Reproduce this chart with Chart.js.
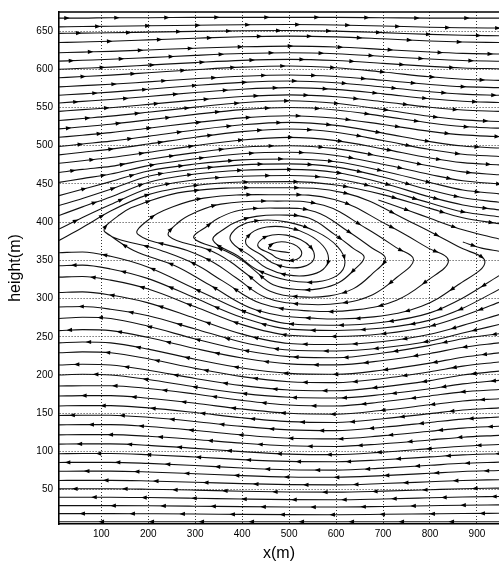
<!DOCTYPE html>
<html>
<head>
<meta charset="utf-8">
<script src="https://cdn.jsdelivr.net/npm/chart.js@4.4.1/dist/chart.umd.min.js"></script>
<style>
  html, body { margin: 0; padding: 0; background: #fff; }
  #wrap { width: 499px; height: 562px; }
</style>
</head>
<body>
<div id="wrap"><canvas id="flow" width="499" height="562"></canvas></div>
<script>
// x positions (m) where the open streamlines are sampled
const stationX = [10, 60, 120, 200, 300, 400, 500, 600, 700, 800, 870, 947];
const xTicks = [100, 200, 300, 400, 500, 600, 700, 800, 900];
const yTicks = [50, 100, 150, 200, 250, 300, 350, 400, 450, 500, 550, 600, 650];

// streamlines above the eddy (flow to the right), height (m) at each station
const upperFlowY = [
  [667, 667, 667.5, 667.5, 668, 668, 668, 668, 667.5, 667, 667, 667],
  [655.6, 656, 656.3, 657, 657.6, 658.3, 658.6, 658, 656.7, 655, 654.4, 654],
  [647, 647.4, 647.8, 648.6, 649.6, 650.4, 650.8, 650, 648, 645.7, 644.5, 644],
  [635, 635.8, 636.8, 638.5, 640.7, 642.6, 643.4, 642.4, 639.9, 637.1, 635.7, 635],
  [621.6, 622.5, 623.5, 625.3, 627.6, 629.5, 630.4, 629.2, 626, 622.6, 620.8, 620],
  [610.7, 611.8, 613.1, 615.3, 618.2, 620.6, 621.7, 620.4, 617, 613.4, 611.5, 610.6],
  [600, 601.3, 602.9, 605.5, 608.8, 611.7, 613, 611.5, 607.8, 603.8, 601.7, 600.7],
  [589, 590.5, 592.4, 595.5, 599.5, 602.9, 604.4, 602.1, 596.5, 590.2, 587, 585.5],
  [577, 578.6, 580.4, 583.6, 587.6, 591, 592.6, 590.6, 585.6, 580.2, 577.3, 576],
  [566, 567.9, 570.1, 573.9, 578.8, 582.9, 584.8, 582.5, 576.9, 570.7, 567.5, 566],
  [556, 558, 560.4, 564.4, 569.6, 574, 576, 573.7, 567.9, 561.5, 558.2, 556.6],
  [545, 547.2, 549.8, 554.1, 559.7, 564.4, 566.6, 564, 557.5, 550.4, 546.7, 545],
  [533, 535.6, 538.7, 543.8, 550.5, 556.2, 558.8, 555.5, 547.4, 538.5, 533.8, 531.7],
  [522, 524.8, 528.2, 533.8, 541, 547.2, 550, 546.8, 538.7, 529.8, 525.2, 523],
  [511, 513.8, 517.2, 522.9, 530.2, 536.5, 539.3, 536, 527.8, 518.8, 514.2, 512],
  [499, 502.2, 506, 512.3, 520.5, 527.4, 530.6, 526.6, 516.5, 505.4, 499.7, 497],
  [488, 491.4, 495.5, 502.2, 511.1, 518.5, 521.9, 517.6, 506.8, 495, 488.9, 486],
  [477, 480.4, 484.5, 491.3, 500.1, 507.6, 511, 506.7, 495.9, 484, 477.9, 475],
  [465, 469, 473, 482, 491, 498, 500, 496.2, 485.6, 473.4, 465.8, 462],
  [452, 457, 463, 474, 483, 489.5, 491.4, 487.3, 475.7, 462.4, 454.1, 450],
  [434.7, 443, 453, 467, 476, 481.5, 482.7, 479, 467, 452, 442, 437],
  [421.7, 431, 443, 460, 469.5, 475, 476.2, 472, 459, 442, 432, 426],
  [408.7, 420, 433, 452, 463, 468, 469, 465, 451, 433, 422.5, 416],
  [391, 406, 423, 444, 455.5, 460, 461, 456.7, 443, 425, 413.5, 407],
  [376, 393, 414.5, 436, 448, 452.5, 453, 448.6, 436, 418, 405.7, 398]
];

// short rightward streamlines squeezed between the eddy and the flow near the right saddle
const upperExtraPaths = [
  [[690, 429], [760, 414], [800, 405], [870, 390], [947, 378]],
  [[870, 374], [910, 366], [947, 362]]
];

// streamlines below the eddy (flow to the left), height (m) at each station
const lowerFlowY = [
  [8, 8, 8, 8, 8, 8, 8, 8, 8, 8, 8, 8],
  [18.6, 18.6, 18.6, 18.4, 18.1, 17.6, 17.3, 17.2, 17.7, 18.3, 18.7, 19],
  [29, 29, 29, 28.8, 28.3, 27.7, 27.3, 27.2, 27.9, 28.9, 29.6, 30],
  [40, 40.1, 40.1, 39.6, 38.7, 37.7, 36.9, 36.7, 37.8, 39.3, 40.4, 41],
  [51, 51.1, 51.1, 50.5, 49.3, 47.9, 46.9, 46.7, 48, 49.9, 51.2, 52],
  [62, 62.1, 62.1, 61.3, 59.7, 57.8, 56.5, 56.2, 57.9, 60.3, 62, 63],
  [74, 74.2, 74.2, 73.1, 70.8, 68.3, 66.5, 66.1, 68.3, 71.4, 73.7, 75],
  [85.5, 85.7, 85.7, 84.3, 81.5, 78.3, 76, 75.5, 78.1, 81.8, 84.4, 86],
  [97, 97.2, 97.2, 95.7, 92.7, 89.3, 86.9, 86.4, 89.1, 92.8, 95.4, 97],
  [109.5, 109.8, 109.8, 107.9, 104, 99.7, 96.5, 95.8, 99.1, 103.6, 106.8, 109],
  [121.6, 121.9, 121.9, 119.8, 115.6, 110.8, 107.3, 106.5, 110.1, 115, 118.6, 121],
  [134.7, 135.1, 135.1, 132.5, 127.4, 121.5, 117.3, 116.4, 120.6, 126.4, 130.5, 133],
  [147, 147.4, 147.4, 144.6, 139.1, 132.7, 128.2, 127.2, 131.6, 137.9, 142.3, 145],
  [159.5, 159.9, 159.9, 156.9, 150.9, 144, 139, 137.9, 142.7, 149.4, 154.1, 157],
  [172.5, 173, 173, 169.6, 163, 155.4, 149.9, 148.7, 153.8, 161, 166, 169],
  [185.5, 186, 186, 182.4, 175.1, 166.8, 160.8, 159.5, 164.9, 172.6, 177.9, 181],
  [200, 200.9, 200, 194, 184.3, 175.9, 170.8, 169.9, 174.5, 181.9, 188.4, 193],
  [213, 214, 213, 206.3, 195.5, 186.1, 180.4, 179.4, 184.5, 192.6, 199.9, 205],
  [229, 230.2, 229, 221.2, 208.7, 197.8, 191.2, 190, 195.4, 204.2, 211.6, 217],
  [242, 243.2, 242, 233.8, 220.6, 209.1, 202.1, 200.9, 206.5, 215.5, 223.3, 229],
  [258, 259.3, 258, 249, 234.7, 222.2, 214.5, 213.2, 219, 228.2, 236.2, 242],
  [274, 275.5, 274, 263.7, 247.2, 232.8, 224, 222.5, 228.8, 238.8, 247.5, 254],
  [289, 289.6, 286.1, 277.5, 260.2, 242.9, 232.6, 231.4, 235.6, 244.5, 254.9, 266],
  [308, 308.7, 304.6, 294.4, 274, 253.5, 241.3, 239.9, 243.8, 253.2, 264.9, 279],
  [328, 328.8, 324.1, 312.5, 289.2, 265.9, 252, 250.4, 254, 263.8, 277.2, 295],
  [343, 343.8, 338.8, 326.1, 300.7, 275.2, 260, 258.3, 261.5, 271.8, 287.4, 312],
  [360, 361, 355.3, 341, 312.6, 284.1, 267, 265.1, 269, 281.3, 300.8, 330]
];

// the eddy: one spiral, turn by turn, clockwise from each left tip
const eddyStart = [500, 360];
const eddyLoops = [
  [[457, 364.8], [461.7, 370.4], [474.5, 373.8], [492, 374], [509.5, 371], [522.3, 365.6],
   [527, 359.2], [522.3, 353.6], [509.5, 350.2], [492, 350], [474.5, 353], [461.7, 358.4]],
  [[434, 368], [442, 377.7], [464, 383.2], [494, 383], [524, 377.2], [546, 367.3],
   [554, 356], [546, 346.3], [524, 340.8], [494, 341], [464, 346.8], [442, 356.7]],
  [[408, 371.7], [419.8, 385.9], [452, 393.6], [496, 393], [540, 384], [572.2, 369.1],
   [584, 352.3], [572.2, 338.1], [540, 330.4], [496, 331], [452, 340], [419.8, 354.9]],
  [[375, 376.6], [391.3, 393.6], [436, 402.2], [497, 400], [558, 387.6], [602.7, 368.4],
   [619, 347.4], [602.7, 330.4], [558, 321.8], [497, 324], [436, 336.4], [391.3, 355.6]],
  [[338, 376.3], [364, 392], [392, 401.5], [430, 407.5], [480, 409.3], [541.7, 405.3], [597.5, 383.7], [637.3, 365.4], [659.9, 354],
   [637.3, 336.9], [606.2, 321], [565.6, 313], [517.9, 311.8], [466.1, 318.1], [426.3, 336.9], [400, 350], [366, 362]],
  [[297.5, 379], [326, 395], [352, 406], [395, 415.5], [469.8, 418.4], [555.5, 413.7], [626.1, 387.8], [676.5, 366.1], [705.2, 352.5],
   [676.5, 332.1], [637.2, 313], [585.8, 303.5], [525.3, 302.2], [459.8, 309.6], [409.4, 332.1], [372.6, 349.1], [330, 363.5]],
  [[244, 381.8], [264.6, 399.9], [296.8, 411.8], [354.8, 423.6], [464.2, 427.6], [573.7, 422], [663.9, 392], [728.3, 366.7], [765, 350.9],
   [728.3, 327.2], [678, 305.1], [612.4, 294.1], [535.1, 292.5], [451.4, 301.2], [387, 327.2], [340, 347], [283.3, 362.8]],
  [[177.5, 384.3], [203.7, 404.7], [244.6, 418.1], [318.2, 431.4], [457.3, 435.9], [596.3, 429.6], [710.9, 395.8], [792.7, 367.3], [839.3, 349.5],
   [792.7, 322.8], [728.9, 297.9], [645.4, 285.5], [547.3, 283.7], [440.9, 293.5], [359.1, 322.8], [299.4, 345.1], [227.4, 362.9]],
  [[108, 387], [140, 410], [190, 425], [280, 440], [450, 445], [620, 438], [760, 400], [860, 368], [917, 348],
   [860, 318], [782, 290], [680, 276], [560, 274], [430, 285], [330, 318], [257, 343], [169, 363]]
];

const lineStyle = {
  showLine: true,
  pointRadius: 0,
  pointHoverRadius: 0,
  borderColor: '#111',
  borderWidth: 1.1,
  fill: false
};

const toPoints = (pairs) => pairs.map(([x, y]) => ({ x, y }));
const onStations = (ys) => ys.map((y, i) => ({ x: stationX[i], y }));

const datasets = [];
upperFlowY.forEach((ys) => datasets.push({ ...lineStyle, data: onStations(ys), cubicInterpolationMode: 'monotone', flow: 1 }));
upperExtraPaths.forEach((path) => datasets.push({ ...lineStyle, data: toPoints(path), cubicInterpolationMode: 'monotone', flow: 1 }));
lowerFlowY.forEach((ys) => datasets.push({ ...lineStyle, data: onStations(ys), cubicInterpolationMode: 'monotone', flow: -1 }));

const spiralPairs = [eddyStart, ...eddyLoops.flat(), eddyLoops[eddyLoops.length - 1][0]];
datasets.push({ ...lineStyle, data: toPoints(spiralPairs), tension: 0.4, flow: 1 });

// Sample the drawn bezier segments of a dataset so arrows sit on the curve.
const tracePath = (points) => {
  const path = [];
  for (let i = 0; i < points.length - 1; i++) {
    const a = points[i];
    const b = points[i + 1];
    const c1x = a.cp2x ?? a.x, c1y = a.cp2y ?? a.y;
    const c2x = b.cp1x ?? b.x, c2y = b.cp1y ?? b.y;
    for (let s = 0; s < 14; s++) {
      const t = s / 14, u = 1 - t;
      path.push([
        u * u * u * a.x + 3 * u * u * t * c1x + 3 * u * t * t * c2x + t * t * t * b.x,
        u * u * u * a.y + 3 * u * u * t * c1y + 3 * u * t * t * c2y + t * t * t * b.y
      ]);
    }
  }
  const last = points[points.length - 1];
  if (last) path.push([last.x, last.y]);
  return path;
};

const drawArrow = (ctx, x, y, dx, dy) => {
  const len = 5.5, half = 2.1;
  ctx.beginPath();
  ctx.moveTo(x + dx * len / 2, y + dy * len / 2);
  ctx.lineTo(x - dx * len / 2 - dy * half, y - dy * len / 2 + dx * half);
  ctx.lineTo(x - dx * len / 2 + dy * half, y - dy * len / 2 - dx * half);
  ctx.closePath();
  ctx.fill();
};

// Direction arrowheads spaced along every streamline.
const arrowPlugin = {
  id: 'flowArrows',
  afterDatasetsDraw(chart) {
    const { ctx, chartArea } = chart;
    ctx.save();
    ctx.beginPath();
    ctx.rect(chartArea.left, chartArea.top, chartArea.right - chartArea.left, chartArea.bottom - chartArea.top);
    ctx.clip();
    ctx.fillStyle = '#000';
    chart.data.datasets.forEach((dataset, index) => {
      const path = tracePath(chart.getDatasetMeta(index).data);
      const spacing = 50;
      let next = 8 + ((index * 0.618) % 1) * spacing;
      let run = 0;
      for (let i = 1; i < path.length; i++) {
        const [x0, y0] = path[i - 1];
        const [x1, y1] = path[i];
        const seg = Math.hypot(x1 - x0, y1 - y0);
        while (seg > 0 && run + seg >= next) {
          const t = (next - run) / seg;
          drawArrow(ctx, x0 + (x1 - x0) * t, y0 + (y1 - y0) * t,
            (x1 - x0) / seg * dataset.flow, (y1 - y0) / seg * dataset.flow);
          next += spacing;
        }
        run += seg;
      }
    });
    ctx.restore();
  }
};

const frameTopPlugin = {
  id: 'frameTop',
  afterDraw(chart) {
    const { ctx, chartArea } = chart;
    ctx.save();
    ctx.strokeStyle = '#000';
    ctx.lineWidth = 1.6;
    ctx.beginPath();
    ctx.moveTo(chartArea.left, chartArea.top);
    ctx.lineTo(chartArea.right, chartArea.top);
    ctx.stroke();
    ctx.restore();
  }
};

Chart.defaults.font.family = '"Liberation Sans", Arial, Helvetica, sans-serif';
Chart.defaults.color = '#000';

const dottedGrid = { color: '#333', lineWidth: 1, drawTicks: false };
const axisBorder = { display: true, color: '#000', width: 1.6, dash: [1, 2] };

new Chart(document.getElementById('flow'), {
  type: 'scatter',
  data: { datasets },
  options: {
    responsive: false,
    maintainAspectRatio: false,
    animation: false,
    events: [],
    layout: { padding: { top: 11, right: 0, bottom: 0, left: 0 } },
    plugins: { legend: { display: false }, tooltip: { enabled: false } },
    scales: {
      x: {
        type: 'linear',
        min: 10,
        max: 947,
        grid: dottedGrid,
        border: axisBorder,
        afterBuildTicks: (axis) => { axis.ticks = xTicks.map((value) => ({ value })); },
        afterFit: (axis) => { axis.height = 38; },
        ticks: { autoSkip: false, maxRotation: 0, padding: 4, font: { size: 10 } },
        title: { display: true, text: 'x(m)', font: { size: 16, lineHeight: 1 }, padding: { top: 0, bottom: 0 } }
      },
      y: {
        type: 'linear',
        min: 5,
        max: 675,
        grid: dottedGrid,
        border: axisBorder,
        afterBuildTicks: (axis) => { axis.ticks = yTicks.map((value) => ({ value })); },
        afterFit: (axis) => { axis.width = 59; },
        ticks: { autoSkip: false, padding: 6, font: { size: 10 } },
        title: { display: true, text: 'height(m)', font: { size: 16 }, padding: { top: 6, bottom: 0 } }
      }
    }
  },
  plugins: [arrowPlugin, frameTopPlugin]
});
</script>
</body>
</html>
